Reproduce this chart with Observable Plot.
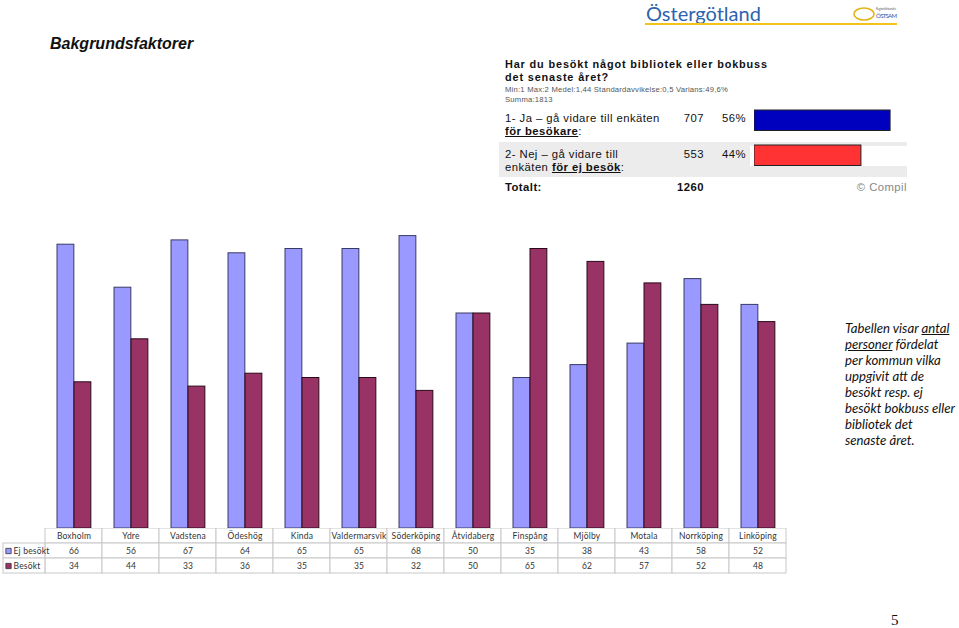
<!DOCTYPE html>
<html><head><meta charset="utf-8">
<script src="https://cdn.jsdelivr.net/npm/d3@7"></script>
<script src="https://cdn.jsdelivr.net/npm/@observablehq/plot@0.6"></script>
<style>
body{margin:0;background:#fff;}
#page{position:relative;width:959px;height:628px;overflow:hidden;font-family:Lato,"Open Sans",sans-serif;color:#111;}
.abs{position:absolute;white-space:nowrap;}
.q{font-family:'Liberation Sans',Arial,sans-serif;font-size:11.3px;line-height:13px;letter-spacing:0.45px;}
.u{text-decoration:underline;font-weight:bold;}
.num{text-align:right;}
.note{font-style:italic;font-size:13.2px;line-height:16px;}
</style></head>
<body><div id="page"></div>
<script>
// ---- data ----
const kommuner = ["Boxholm","Ydre","Vadstena","Ödeshög","Kinda","Valdermarsvik","Söderköping","Åtvidaberg","Finspång","Mjölby","Motala","Norrköping","Linköping"];
const ejBesokt = [66,56,67,64,65,65,68,50,35,38,43,58,52];
const besokt   = [34,44,33,36,35,35,32,50,65,62,57,52,48];
const seriesNames = ["Ej besökt","Besökt"];
const answerLabels = ["1","2"];
const answerCounts = [707,553];
const answerPct = [56,44];
const total = 1260;

const blue = "#9999FF", plum = "#993366";
const page = document.getElementById("page");
function add(html, style, cls){const d=document.createElement("div");d.className="abs "+(cls||"");d.innerHTML=html;Object.assign(d.style,style);page.appendChild(d);return d;}

// ---- header decorations ----
add("Bakgrundsfaktorer",{left:"50px",top:"35px",font:"italic bold 16px 'Liberation Sans',Arial,sans-serif"});
add("Östergötland",{left:"646px",top:"1px",font:"20px Lato,sans-serif",color:"#2e63b0"});
add("",{left:"645px",top:"23px",width:"252px",height:"2px",background:"#f3c21b"});
add('<svg width="50" height="20"><ellipse cx="11" cy="11" rx="10" ry="6" fill="none" stroke="#e5b518" stroke-width="1.5"/><text x="23" y="7" font-size="3" fill="#666" textLength="20">Regionförbundet</text><text x="23" y="15" font-size="6" fill="#3355aa" font-family="Lato" textLength="21">ÖSTSAM</text></svg>',{left:"853px",top:"3px"});

// ---- question block ----
add("",{left:"499px",top:"142px",width:"408px",height:"35px",background:"#ececec"});
add("",{left:"750px",top:"145.5px",width:"157px",height:"20.5px",background:"#fff"});
add("<b>Har du besökt något bibliotek eller bokbuss</b>",{left:"505px",top:"58px",fontSize:"10.9px",lineHeight:"12.5px",letterSpacing:"0.85px"},"q");
add("<b>det senaste året?</b>",{left:"505px",top:"70.5px",fontSize:"10.9px",lineHeight:"12.5px",letterSpacing:"0.85px"},"q");
add("Min:1 Max:2 Medel:1,44 Standardavvikelse:0,5 Varians:49,6%",{left:"505px",top:"85px",fontSize:"7.7px",lineHeight:"10px",color:"#555",letterSpacing:"0.2px"},"q");
add("Summa:1813",{left:"505px",top:"95px",fontSize:"7.7px",lineHeight:"10px",color:"#555",letterSpacing:"0.2px"},"q");
add("1- Ja – gå vidare till enkäten",{left:"505px",top:"112px"},"q");
add('<span class="u">för besökare</span>:',{left:"505px",top:"125px"},"q");
add("2- Nej – gå vidare till",{left:"505px",top:"148px"},"q");
add('enkäten <span class="u">för ej besök</span>:',{left:"505px",top:"161px"},"q");
answerCounts.forEach((c,i)=>{
  add(String(c),{left:"664px",width:"40px",top:(112+36*i)+"px"},"q num");
  add(answerPct[i]+"%",{left:"706px",width:"40px",top:(112+36*i)+"px"},"q num");
});
add("<b>Totalt:</b>",{left:"505px",top:"181px"},"q");
add("<b>"+total+"</b>",{left:"664px",width:"40px",top:"181px"},"q num");
add("© Compil",{left:"837px",width:"70px",top:"181px",color:"#888",textAlign:"right"},"q");

const answers = answerLabels.map((a,i)=>({answer:a,pct:answerPct[i]}));
const small = Plot.plot({
  width:160,height:70,margin:0,
  x:{domain:[0,100],range:[0,243],axis:null},
  y:{domain:answerLabels,range:[0,70],padding:0,axis:null},
  marks:[Plot.barX(answers,{x:"pct",y:"answer",fill:d=>d.answer==="1"?"#0000BF":"#FF3333",stroke:"#222",strokeWidth:1,insetTop:7,insetBottom:7.5})]
});
small.style.position="absolute";small.style.left="754px";small.style.top="103px";small.style.background="transparent";
page.appendChild(small);

// ---- bar chart ----
const rows = [];
kommuner.forEach((k,i)=>{rows.push({kommun:k,serie:"Ej besökt",v:ejBesokt[i]});rows.push({kommun:k,serie:"Besökt",v:besokt[i]});});
const chart = Plot.plot({
  width:800,height:308,marginLeft:44,marginRight:13,marginTop:7,marginBottom:0,
  x:{domain:kommuner,padding:0,axis:null},
  y:{domain:[0,70],axis:null},
  marks:[
    Plot.barY(rows.filter(d=>d.serie==="Ej besökt"),{x:"kommun",y:"v",fill:blue,stroke:"#3a3a66",strokeWidth:1,insetLeft:12,insetRight:28.15}),
    Plot.barY(rows.filter(d=>d.serie==="Besökt"),{x:"kommun",y:"v",fill:plum,stroke:"#2a0a1a",strokeWidth:1,insetLeft:29,insetRight:11.15})
  ]
});
chart.style.position="absolute";chart.style.left="0px";chart.style.top="220px";chart.style.background="transparent";
page.appendChild(chart);

// ---- data table ----
const tableRows = ["header",...seriesNames];
const cells = [];
kommuner.forEach((k,i)=>{
  cells.push({kommun:k,row:"header",t:k});
  cells.push({kommun:k,row:"Ej besökt",t:String(ejBesokt[i])});
  cells.push({kommun:k,row:"Besökt",t:String(besokt[i])});
});
const labels = seriesNames.map((s,i)=>({row:s,color:i===0?blue:plum}));
const table = Plot.plot({
  width:800,height:46,marginLeft:44,marginRight:13,marginTop:0,marginBottom:1,
  style:{fontFamily:"Lato,sans-serif",fontSize:"8.5px",color:"#333",letterSpacing:"0.2px"},
  x:{domain:kommuner,padding:0,axis:null},
  y:{domain:tableRows,padding:0,axis:null},
  marks:[
    Plot.cell(cells,{x:"kommun",y:"row",fill:"white",stroke:"#c8c8c8",strokeWidth:1}),
    Plot.cell(labels,{x:()=>kommuner[0],y:"row",fill:"white",stroke:"#c8c8c8",strokeWidth:1,dx:-42,insetRight:15.15}),
    Plot.text(cells,{x:"kommun",y:"row",text:"t",fill:"#333"}),
    Plot.dot(labels,{y:"row",frameAnchor:"left",dx:-36,symbol:"square",r:3,fill:"color",stroke:"#333",strokeWidth:0.8}),
    Plot.text(labels,{y:"row",text:"row",frameAnchor:"left",textAnchor:"start",dx:-31,fill:"#333"})
  ]
});
table.style.position="absolute";table.style.left="0px";table.style.top="528px";table.style.background="transparent";
page.appendChild(table);

// ---- side note & page number ----
const noteLines = ['Tabellen visar <u>antal</u>','<u>personer</u> fördelat','per kommun vilka','uppgivit att de','besökt resp. ej','besökt bokbuss eller','bibliotek det','senaste året.'];
noteLines.forEach((l,i)=>add(l,{left:"845px",top:(320+16*i)+"px"},"note"));
add("5",{left:"891px",top:"612px",font:"15px 'Liberation Serif',serif"});
</script></body></html>
